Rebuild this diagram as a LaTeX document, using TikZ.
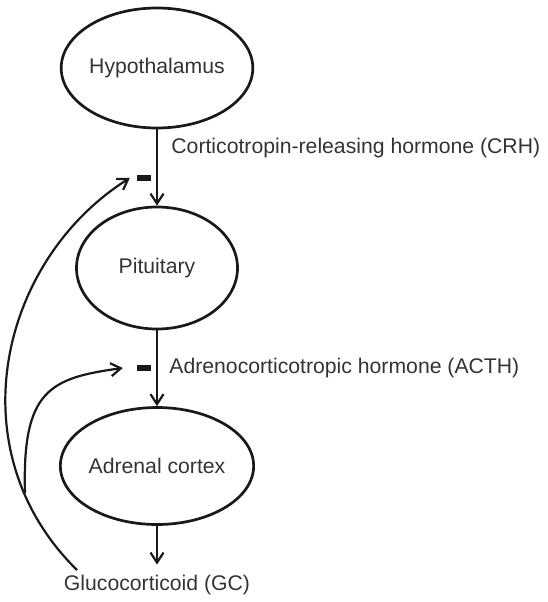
\documentclass[tikz,border=0pt]{standalone}
\usepackage{fontspec}
\setmainfont{Liberation Sans}
\usetikzlibrary{positioning, shapes, arrows.meta}

\begin{document}
\begin{tikzpicture}[x=1pt, y=1pt, node distance=200pt, font=\fontsize{21.2}{25}\selectfont, text=black!80]
% Define block styles
\tikzstyle{gland} = [ellipse, draw=black!90, line width=2.7pt, 
    inner sep=0pt, minimum width=161pt, minimum height=120pt]
\tikzstyle{line} = [draw=black!90, line width=2.2pt, -{Straight Barb[length=10pt, width=13pt]}]
\tikzstyle{minus} = [rectangle, fill=black!90, inner sep=0pt, minimum width=14pt, minimum height=6pt]
\useasboundingbox (0,0) rectangle (548,-602);
    % Place nodes
    \node [gland] (hypo) at (157,-68) {Hypothalamus};
    \node [gland, below of=hypo, minimum height=122pt] (pit) {Pituitary};
    \node [gland, below of=pit, node distance=198pt, minimum width=168pt, minimum height=117pt] (adrenal) {Adrenal cortex};
    \node [below of=adrenal, node distance=119pt] (gc) {Glucocorticoid (GC)};
    \node [minus] (crhminus) at (144,-178) {};
    \node [minus] (acthminus) at (144,-368) {};
    \coordinate (gclong) at (77,-570);
    \coordinate (gcshort) at (25,-493);
    % Draw edges
    \path [line] (hypo) -- node [pos=0.25, right=10pt] {Corticotropin-releasing hormone (CRH)} (pit);
    \path [line] (pit) -- node [pos=0.5, right=8pt] {Adrenocorticotropic hormone (ACTH)} (adrenal);
    \path [line, shorten >=7pt] (adrenal) -- (gc);
    % Feedback
    \path [line] (gclong) .. controls (-45,-450) and (0,-260) .. ([xshift=-7pt]crhminus.west);
    \path [line] (gcshort) .. controls (22,-390) and (50,-378) .. ([xshift=-14pt]acthminus.west);
\end{tikzpicture}
\end{document}
